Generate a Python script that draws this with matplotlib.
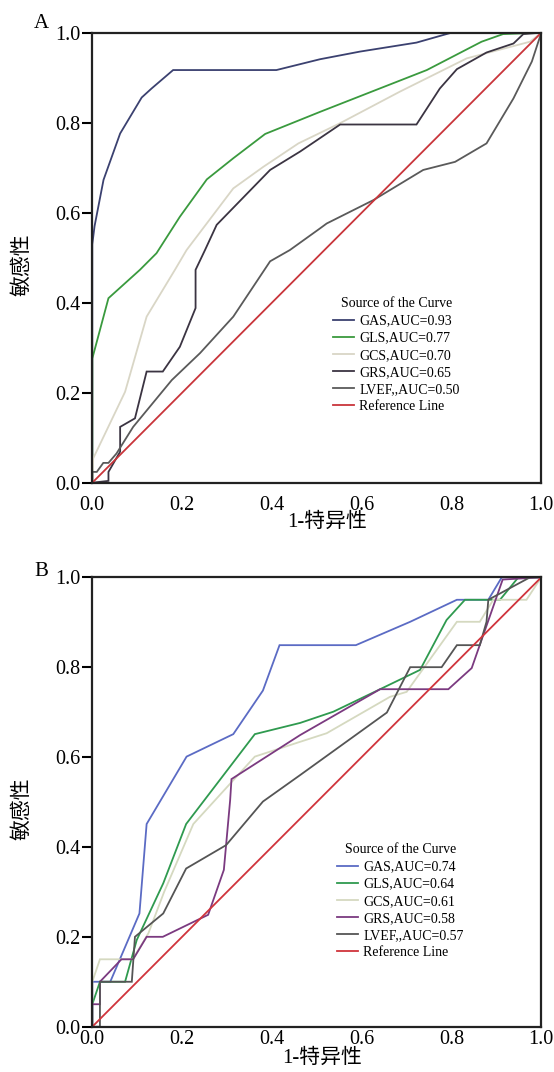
import matplotlib
matplotlib.use("Agg")
import matplotlib.pyplot as plt

plt.rcParams['font.family'] = ['Liberation Serif', 'Noto Sans CJK SC']
plt.rcParams['axes.unicode_minus'] = False

# ---------------- Data ----------------
labels_a = ["GAS,AUC=0.93", "GLS,AUC=0.77", "GCS,AUC=0.70", "GRS,AUC=0.65", "LVEF,,AUC=0.50", "Reference Line"]
labels_b = ["GAS,AUC=0.74", "GLS,AUC=0.64", "GCS,AUC=0.61", "GRS,AUC=0.58", "LVEF,,AUC=0.57", "Reference Line"]

# Panel A
a_gas_x = [0, 0, 0.005, 0.025, 0.062, 0.110, 0.132, 0.180, 0.410, 0.507, 0.596, 0.722, 0.789, 0.800, 1.0]
a_gas_y = [0, 0.53, 0.57, 0.673, 0.776, 0.856, 0.876, 0.917, 0.917, 0.941, 0.958, 0.978, 0.997, 1.0, 1.0]

a_gls_x = [0, 0, 0.036, 0.106, 0.143, 0.195, 0.255, 0.314, 0.385, 0.507, 0.745, 0.867, 0.915, 1.0]
a_gls_y = [0, 0.276, 0.410, 0.473, 0.510, 0.591, 0.674, 0.721, 0.775, 0.824, 0.917, 0.980, 0.997, 1.0]

a_gcs_x = [0, 0.002, 0.073, 0.121, 0.184, 0.210, 0.314, 0.381, 0.459, 0.552, 0.685, 0.834, 0.975, 1.0]
a_gcs_y = [0, 0.054, 0.202, 0.369, 0.473, 0.517, 0.654, 0.702, 0.754, 0.799, 0.869, 0.943, 0.980, 1.0]

a_grs_x = [0, 0.036, 0.036, 0.062, 0.062, 0.095, 0.121, 0.157, 0.195, 0.230, 0.230, 0.251, 0.277, 0.396,
           0.463, 0.552, 0.722, 0.774, 0.812, 0.878, 0.938, 0.960, 1.0]
a_grs_y = [0, 0.004, 0.024, 0.069, 0.124, 0.143, 0.247, 0.247, 0.302, 0.388, 0.473, 0.517, 0.573, 0.695,
           0.736, 0.796, 0.796, 0.876, 0.919, 0.956, 0.976, 0.997, 1.0]

a_lvef_x = [0, 0, 0.010, 0.0245, 0.036, 0.054, 0.091, 0.177, 0.240, 0.314, 0.396, 0.440, 0.507, 0.522,
            0.626, 0.737, 0.808, 0.878, 0.938, 0.979, 1.0]
a_lvef_y = [0, 0.024, 0.024, 0.044, 0.044, 0.065, 0.124, 0.228, 0.288, 0.369, 0.492, 0.517, 0.565, 0.576,
            0.628, 0.695, 0.713, 0.754, 0.854, 0.936, 1.0]

# Panel B
b_gas_x = [0, 0, 0.040, 0.105, 0.121, 0.210, 0.314, 0.380, 0.417, 0.587, 0.708, 0.812, 0.882, 0.912, 1.0]
b_gas_y = [0, 0.10, 0.10, 0.252, 0.451, 0.601, 0.651, 0.748, 0.849, 0.849, 0.901, 0.950, 0.950, 1.0, 1.0]

b_gls_x = [0, 0, 0.017, 0.073, 0.099, 0.158, 0.209, 0.362, 0.463, 0.537, 0.641, 0.730, 0.789, 0.830,
           0.908, 0.949, 1.0]
b_gls_y = [0, 0.05, 0.10, 0.10, 0.193, 0.319, 0.451, 0.651, 0.676, 0.701, 0.751, 0.794, 0.905, 0.950,
           0.950, 1.0, 1.0]

b_gcs_x = [0, 0, 0.017, 0.090, 0.125, 0.160, 0.225, 0.362, 0.463, 0.522, 0.663, 0.700, 0.812, 0.863,
           0.893, 0.967, 1.0]
b_gcs_y = [0, 0.10, 0.15, 0.15, 0.208, 0.300, 0.451, 0.601, 0.634, 0.653, 0.734, 0.745, 0.901, 0.901,
           0.950, 0.950, 1.0]

b_grs_x = [0, 0, 0.017, 0.017, 0.065, 0.091, 0.121, 0.157, 0.258, 0.293, 0.307, 0.310, 0.463, 0.641,
           0.793, 0.845, 0.914, 1.0]
b_grs_y = [0, 0.05, 0.05, 0.10, 0.15, 0.15, 0.20, 0.20, 0.249, 0.349, 0.504, 0.551, 0.649, 0.751,
           0.751, 0.798, 0.995, 1.0]

b_lvef_x = [0, 0.017, 0.017, 0.088, 0.095, 0.158, 0.209, 0.298, 0.380, 0.463, 0.656, 0.708, 0.778,
            0.812, 0.863, 0.878, 0.882, 0.975, 1.0]
b_lvef_y = [0, 0, 0.10, 0.10, 0.20, 0.252, 0.352, 0.404, 0.501, 0.560, 0.699, 0.800, 0.800,
            0.849, 0.849, 0.901, 0.950, 1.0, 1.0]

ref_x = [0, 1]
ref_y = [0, 1]

ticks = [0.0, 0.2, 0.4, 0.6, 0.8, 1.0]
tick_labels = ["0.0", "0.2", "0.4", "0.6", "0.8", "1.0"]

colors_a = ["#3b4170", "#3a9a3e", "#d9d6c6", "#3b3442", "#5a5a5a", "#c9353b"]
colors_b = ["#5b6bc4", "#2f9a4f", "#d5d9c0", "#7b3a80", "#555555", "#d0343c"]

# ---------------- Figure ----------------
W, H = 554, 1072
fig = plt.figure(figsize=(W / 100, H / 100), dpi=100)


def px(x0, y0, x1, y1):
    return [x0 / W, 1 - y1 / H, (x1 - x0) / W, (y1 - y0) / H]


axA = fig.add_axes(px(92.3, 32.7, 541.3, 482.7))
axB = fig.add_axes(px(92.3, 577.3, 541.3, 1026.7))

series_a = [(a_gas_x, a_gas_y), (a_gls_x, a_gls_y), (a_gcs_x, a_gcs_y), (a_grs_x, a_grs_y),
            (a_lvef_x, a_lvef_y), (ref_x, ref_y)]
series_b = [(b_gas_x, b_gas_y), (b_gls_x, b_gls_y), (b_gcs_x, b_gcs_y), (b_grs_x, b_grs_y),
            (b_lvef_x, b_lvef_y), (ref_x, ref_y)]


def setup(ax, series, colors, labels, xpad, leg_xy, lspace):
    handles = []
    for (xs, ys), c, lab in zip(series, colors, labels):
        h, = ax.plot(xs, ys, color=c, lw=1.3, label=lab, solid_joinstyle='miter')
        handles.append(h)
    ax.set_xlim(0, 1)
    ax.set_ylim(0, 1)
    ax.set_xticks(ticks)
    ax.set_xticklabels(tick_labels)
    ax.set_yticks(ticks)
    ax.set_yticklabels(tick_labels)
    ax.tick_params(axis='y', direction='out', length=7, width=1.5, pad=1.5, labelsize=14.5)
    ax.tick_params(axis='x', length=0, pad=xpad, labelsize=14.5)
    for s in ax.spines.values():
        s.set_linewidth(1.6)
        s.set_color('#222222')
    leg = ax.legend(handles=handles, loc='upper left', bbox_to_anchor=leg_xy,
                    frameon=False, fontsize=10, title="Source of the Curve",
                    title_fontsize=10, borderpad=0, borderaxespad=0,
                    handlelength=1.5, handletextpad=0.4, labelspacing=lspace)
    return leg


setup(axA, series_a, colors_a, labels_a, 9.5, (0.536, 0.412), 0.3)
setup(axB, series_b, colors_b, labels_b, 2.5, (0.545, 0.408), 0.3)

# axis labels
fig.text(22.5 / W, 1 - 264.5 / H, "敏感性", rotation=90, ha='center', va='center', fontsize=15)
fig.text(22.5 / W, 1 - 809 / H, "敏感性", rotation=90, ha='center', va='center', fontsize=15)
fig.text(327 / W, 1 - 522 / H, "1-特异性", ha='center', va='center', fontsize=15)
fig.text(322 / W, 1 - 1058 / H, "1-特异性", ha='center', va='center', fontsize=15)

# panel letters
fig.text(41 / W, 1 - 23 / H, "A", ha='center', va='center', fontsize=15)
fig.text(41 / W, 1 - 572 / H, "B", ha='center', va='center', fontsize=15)

fig.savefig("out.png", dpi=100)
